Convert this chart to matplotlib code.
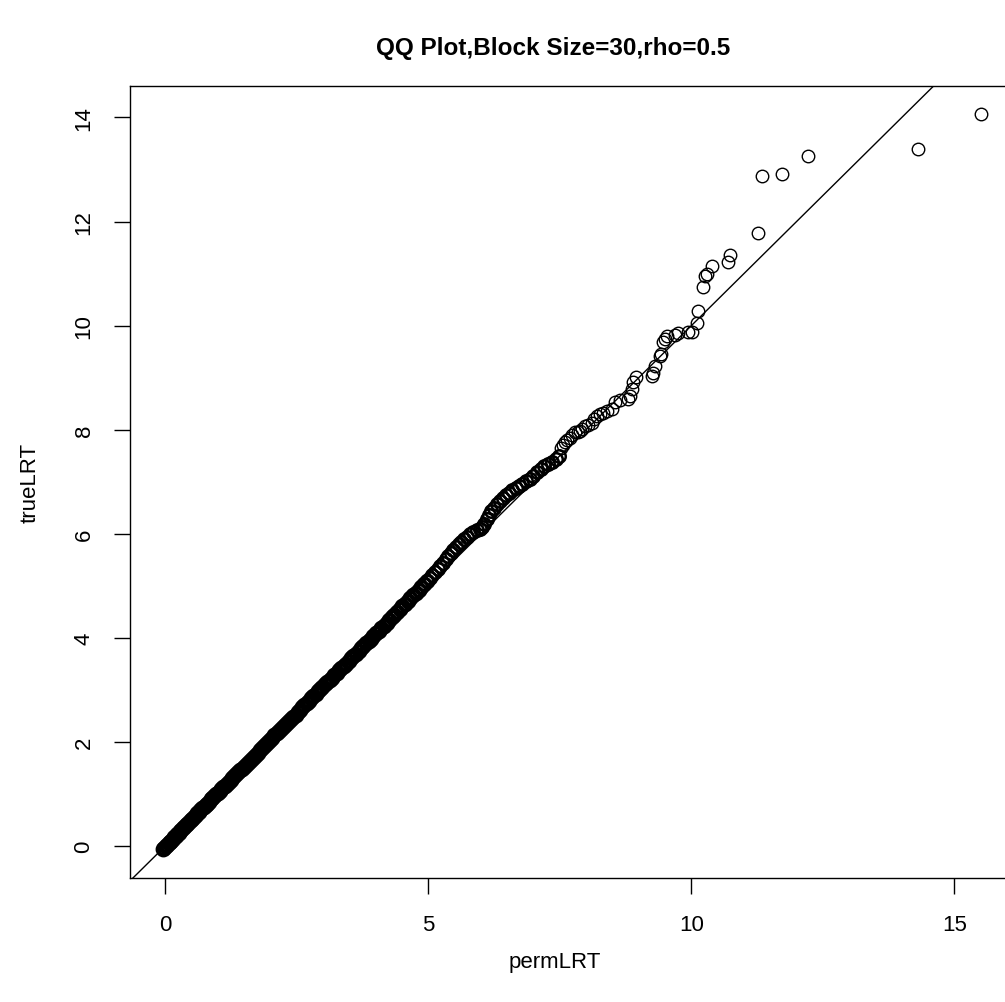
import matplotlib
matplotlib.use('Agg')
import matplotlib.pyplot as plt

plt.rcParams['font.family'] = ['Liberation Sans', 'DejaVu Sans']

# quantiles (sorted, paired)
perm_lrt = [
    -0.03, -0.01, 0.02, 0.04, 0.07, 0.09, 0.12, 0.15, 0.17, 0.20,
    0.23, 0.26, 0.28, 0.31, 0.34, 0.37, 0.40, 0.42, 0.45, 0.49,
    0.52, 0.55, 0.58, 0.61, 0.64, 0.67, 0.71, 0.74, 0.77, 0.80,
    0.84, 0.87, 0.90, 0.94, 0.97, 1.00, 1.04, 1.07, 1.11, 1.14,
    1.18, 1.21, 1.25, 1.28, 1.32, 1.35, 1.39, 1.43, 1.46, 1.50,
    1.54, 1.57, 1.61, 1.65, 1.69, 1.72, 1.76, 1.80, 1.84, 1.88,
    1.92, 1.96, 2.00, 2.04, 2.08, 2.12, 2.16, 2.20, 2.24, 2.28,
    2.32, 2.36, 2.40, 2.44, 2.48, 2.52, 2.56, 2.61, 2.65, 2.69,
    2.73, 2.78, 2.82, 2.86, 2.91, 2.95, 2.99, 3.04, 3.08, 3.13,
    3.17, 3.22, 3.26, 3.31, 3.35, 3.40, 3.44, 3.49, 3.54, 3.58,
    3.63, 3.68, 3.72, 3.77, 3.82, 3.87, 3.91, 3.96, 4.01, 4.06,
    4.11, 4.16, 4.21, 4.26, 4.31, 4.36, 4.41, 4.46, 4.51, 4.56,
    4.61, 4.66, 4.72, 4.77, 4.82, 4.87, 4.93, 4.98,
    5.03, 5.08, 5.13, 5.18, 5.23, 5.28, 5.33, 5.38, 5.43, 5.48,
    5.53, 5.58, 5.63, 5.68, 5.74, 5.80, 5.86, 5.92, 5.98, 6.03,
    6.07, 6.11, 6.15, 6.20, 6.25, 6.30, 6.36, 6.42, 6.48, 6.54,
    6.60, 6.66, 6.72, 6.79, 6.86, 6.93, 7.00, 7.07, 7.14, 7.21,
    7.28, 7.35, 7.42, 7.48,
    7.53, 7.56, 7.60, 7.64, 7.69, 7.74, 7.79, 7.84, 7.88, 7.93,
    7.98, 8.04, 8.11, 8.16, 8.20, 8.26, 8.33, 8.40, 8.49, 8.55,
    8.64, 8.80, 8.83, 8.87, 8.90, 8.95, 9.25, 9.28, 9.31, 9.40,
    9.42, 9.47, 9.50, 9.53, 9.69, 9.75, 9.94, 10.02, 10.10, 10.13,
    10.23, 10.26, 10.29, 10.39, 10.70, 10.74, 11.27, 11.35, 11.73, 12.22,
    14.31, 15.51,
]
true_lrt = [
    -0.05, -0.03, 0.00, 0.03, 0.06, 0.08, 0.11, 0.14, 0.17, 0.20,
    0.23, 0.26, 0.29, 0.32, 0.35, 0.38, 0.41, 0.43, 0.46, 0.50,
    0.53, 0.56, 0.60, 0.63, 0.66, 0.69, 0.73, 0.76, 0.79, 0.82,
    0.86, 0.90, 0.93, 0.96, 1.00, 1.03, 1.07, 1.10, 1.13, 1.16,
    1.20, 1.24, 1.27, 1.31, 1.35, 1.38, 1.42, 1.46, 1.49, 1.53,
    1.57, 1.60, 1.64, 1.68, 1.72, 1.76, 1.80, 1.84, 1.88, 1.92,
    1.96, 2.00, 2.04, 2.08, 2.13, 2.17, 2.21, 2.25, 2.29, 2.33,
    2.37, 2.41, 2.45, 2.49, 2.53, 2.57, 2.61, 2.67, 2.71, 2.75,
    2.79, 2.84, 2.88, 2.93, 2.98, 3.02, 3.06, 3.11, 3.15, 3.20,
    3.24, 3.29, 3.33, 3.38, 3.42, 3.47, 3.51, 3.56, 3.61, 3.65,
    3.70, 3.75, 3.80, 3.85, 3.90, 3.95, 3.99, 4.04, 4.09, 4.14,
    4.19, 4.24, 4.29, 4.35, 4.40, 4.45, 4.50, 4.56, 4.61, 4.66,
    4.71, 4.76, 4.82, 4.87, 4.93, 4.98, 5.04, 5.09,
    5.15, 5.21, 5.27, 5.33, 5.39, 5.45, 5.51, 5.57, 5.63, 5.69,
    5.75, 5.80, 5.85, 5.90, 5.95, 6.00, 6.04, 6.07, 6.10, 6.14,
    6.20, 6.28, 6.36, 6.44, 6.50, 6.57, 6.63, 6.69, 6.74, 6.79,
    6.84, 6.88, 6.92, 6.96, 7.01, 7.06, 7.12, 7.18, 7.24, 7.30,
    7.35, 7.39, 7.44, 7.50,
    7.66, 7.70, 7.76, 7.80, 7.85, 7.90, 7.95, 7.96, 7.98, 8.02,
    8.08, 8.10, 8.14, 8.20, 8.27, 8.30, 8.33, 8.37, 8.40, 8.53,
    8.58, 8.60, 8.65, 8.78, 8.91, 9.01, 9.04, 9.10, 9.23, 9.42,
    9.45, 9.68, 9.74, 9.81, 9.83, 9.86, 9.87, 9.88, 10.06, 10.29,
    10.75, 10.95, 10.99, 11.14, 11.23, 11.35, 11.78, 12.87, 12.91, 13.26,
    13.39, 14.06,
]

# the first points sit so close together in the original that their rings merge into a solid band
n_dense = 128
n_mid = 172

W, H = 1005, 1003
fig = plt.figure(figsize=(W / 100, H / 100), dpi=100)
# plot region: left edge 130px, top 86.7px, bottom 879.3px; right edge runs off the image
ax = fig.add_axes([130 / W, (H - 879.3) / H, (1006 - 130) / W, (879.3 - 86.7) / H])

style = dict(linestyle='none', marker='o', markersize=9,
             markerfacecolor='none', markeredgecolor='black')
ax.plot(perm_lrt[:n_dense], true_lrt[:n_dense], markeredgewidth=2.4, **style)
ax.plot(perm_lrt[n_dense:n_mid], true_lrt[n_dense:n_mid], markeredgewidth=1.8, **style)
ax.plot(perm_lrt[n_mid:], true_lrt[n_mid:], markeredgewidth=1.0, **style)
ax.axline((0, 0), slope=1, color='black', linewidth=1.0)

ax.set_xlim(-0.665, 15.98)
ax.set_ylim(-0.615, 14.61)
ax.set_xticks([0, 5, 10, 15])
ax.set_yticks([0, 2, 4, 6, 8, 10, 12, 14])
ax.tick_params(direction='out', length=11.5, width=1.0, labelsize=16, pad=14, color='black')
for lab in ax.get_yticklabels():
    lab.set_rotation(90)
    lab.set_va('center')
for s in ax.spines.values():
    s.set_linewidth(1.0)

fig.text(553 / W, 1 - 48 / H, 'QQ Plot,Block Size=30,rho=0.5', ha='center', va='center',
         fontsize=17.5, fontweight='bold')
fig.text(555 / W, 1 - 963 / H, 'permLRT', ha='center', va='center', fontsize=16)
fig.text(30 / W, 1 - 483 / H, 'trueLRT', ha='center', va='center', fontsize=16, rotation=90)

fig.savefig('out.png', dpi=100)
plt.close(fig)
